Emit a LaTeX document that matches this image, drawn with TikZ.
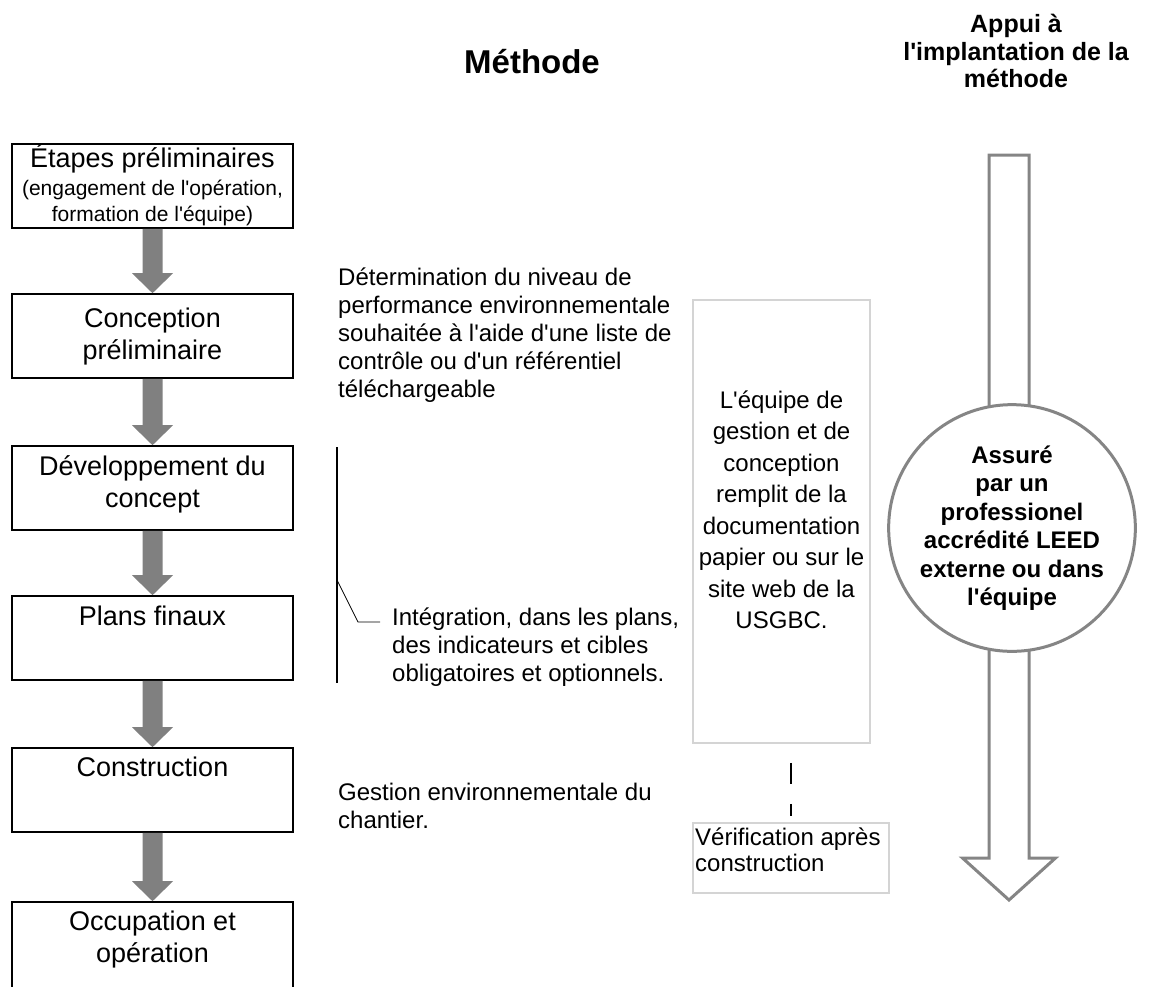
\documentclass[tikz,border=0pt]{standalone}
\usepackage{fontspec}
\defaultfontfeatures[\rmfamily]{}
\setmainfont{Liberation Sans}
\usetikzlibrary{calc}

\begin{document}
\begin{tikzpicture}[x=1pt,y=-1pt,
        etape/.style={draw,line width=1.6pt,minimum width=281pt,minimum height=84pt,inner sep=0pt},
        etapetxt/.style={align=center,inner sep=0pt,font=\fontsize{27}{32}\selectfont},
        desc/.style={align=left,anchor=west,inner sep=0pt,font=\fontsize{24}{28}\selectfont},
        greybox/.style={draw=black!17,line width=1.5pt,inner sep=0pt},
        blockarrow/.style={fill=black!50},
        appui/.style={draw=black!48,line width=3pt}]
    \useasboundingbox (0,0) rectangle (1152,986);
    \clip (0,0) rectangle (1152,986);
    % titres
    \node[font=\bfseries\fontsize{33}{36}\selectfont,anchor=base] (methode) at (532,73) {Méthode};
    \node[font=\bfseries\fontsize{25}{27.5}\selectfont,align=center,inner sep=0pt] (appuititre) at (1016,51)
        {Appui à\\l'implantation de la\\méthode};
    % etapes de la methode
    \node[etape] (prelim) at (152.5,186) {};
    \node[etape] (concprel) at (152.5,336) {};
    \node[etape] (devconc) at (152.5,488) {};
    \node[etape] (plans) at (152.5,638) {};
    \node[etape] (constr) at (152.5,790) {};
    \node[etape,minimum height=100pt] (occup) at (152.5,952) {};
    \node[etapetxt,anchor=base] at (152.5,167) {Étapes préliminaires};
    \node[etapetxt,font=\fontsize{21}{25.5}\selectfont] at (152.5,203)
        {(engagement de l'opération,\\formation de l'équipe)};
    \node[etapetxt] at (152.5,337) {Conception\\préliminaire};
    \node[etapetxt] at (152.5,484) {Développement du\\concept};
    \node[etapetxt,anchor=base] at (152.5,625) {Plans finaux};
    \node[etapetxt,anchor=base] at (152.5,776) {Construction};
    \node[etapetxt] at (152.5,940) {Occupation et\\opération};
    \foreach \a/\b in {prelim/concprel,concprel/devconc,devconc/plans,plans/constr,constr/occup}
        \fill[blockarrow] ($(\a.south)+(-10,0)$) -- ($(\b.north)+(-10,-20)$) -- ++(-10.5,0) -- (\b.north)
            -- ($(\b.north)+(20.5,-20)$) -- ++(-10.5,0) -- ($(\a.south)+(10,0)$) -- cycle;
    % textes du milieu
    \node[desc] (niveau) at (338,335) {Détermination du niveau de\\performance environnementale\\souhaitée à l'aide d'une liste de\\contrôle ou d'un référentiel\\téléchargeable};
    \node[desc] (integ) at (392,647) {Intégration, dans les plans,\\des indicateurs et cibles\\obligatoires et optionnels.};
    \node[desc] (chantier) at (338,806) {Gestion environnementale du\\chantier.};
    \coordinate (brtop) at (337,447);
    \coordinate (brbot) at (337,683);
    \coordinate (brknee) at (337,580);
    \draw[line width=1.6pt] (brtop) -- (brbot);
    \draw[line width=0.8pt] (brknee) -- ++(21,42) -- ++(22,0);
    % documentation
    \node[greybox,minimum width=177pt,minimum height=443pt] (saisie) at (781.5,521.5) {};
    \node[align=center,inner sep=0pt,font=\fontsize{24}{31.5}\selectfont] at (781.5,510)
        {L'équipe de\\gestion et de\\conception\\remplit de la\\documentation\\papier ou sur le\\site web de la\\USGBC.};
    \node[greybox,minimum width=196pt,minimum height=70pt] (verif) at (791,858) {};
    \node[desc,font=\fontsize{24}{26}\selectfont] at (695,850) {Vérification après\\construction};
    \draw[line width=1.8pt,dash pattern=on 21pt off 20pt] ($(saisie.south -| verif.north)+(0,19)$) -- ($(verif.north)+(0,-6)$);
    % appui
    \coordinate (apptop) at (1009,155);
    \coordinate (apptip) at (1009,900);
    \draw[appui] ($(apptop)+(-20,0)$) -- ($(apptip)+(-20,-42)$) -- ++(-26.5,0) -- (apptip)
        -- ($(apptip)+(46.5,-42)$) -- ++(-26.5,0) -- ($(apptop)+(20,0)$) -- cycle;
    \node[circle,appui,fill=white,minimum size=216pt,inner sep=0pt,align=center,
        font=\bfseries\fontsize{24}{28.5}\selectfont] (leed) at (1012,528)
        {Assuré\\par un\\professionel\\accrédité LEED\\externe ou dans\\l'équipe};
\end{tikzpicture}
\end{document}
